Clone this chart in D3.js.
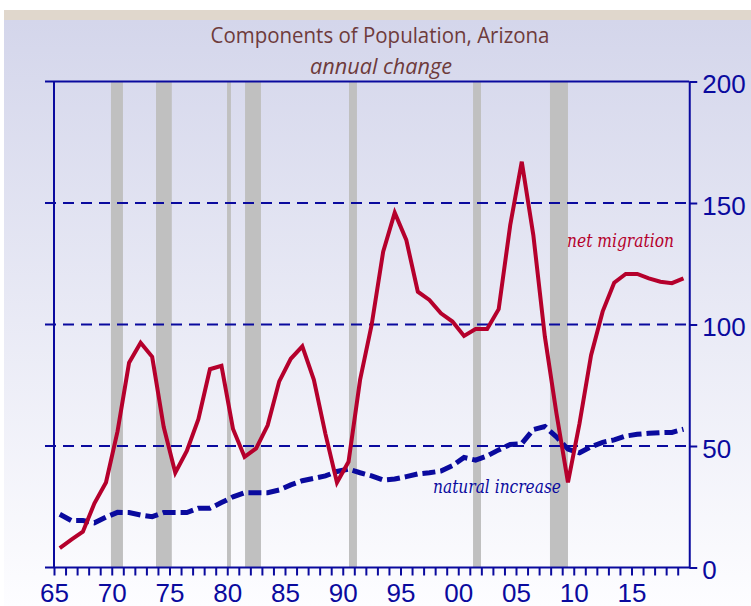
<!DOCTYPE html>
<html>
<head>
<meta charset="utf-8">
<script src="https://cdn.jsdelivr.net/npm/d3@7"></script>
<style>
    body { margin:0; background:white; }
    svg { display:block; }
</style>
</head>
<body>
<svg id="chart"></svg>
<script>

//years of the data (points sit in the middle of each year)
var years = d3.range(1965, 2020);

//net migration, thousands
var netMigration = [8, 11.5, 14.7, 26.4, 35, 56, 84.3, 92.5, 86.7, 57.8,
                    39, 48, 61, 81.6, 83, 57, 45.5, 49, 58.5, 76.6,
                    85.9, 91, 77.2, 55, 35, 43.5, 77.2, 99.8, 130, 146,
                    134.8, 113.5, 110.1, 104.6, 101.2, 95.3, 98.1, 98.1, 106.3, 140.9,
                    167, 136.8, 95, 63.5, 35, 59.3, 87.4, 105.3, 117.2, 120.8,
                    120.8, 119, 117.6, 117, 119];

//natural increase, thousands
var naturalIncrease = [21.9, 19.3, 19.3, 18.4, 20.7, 22.7, 22.6, 21.6, 20.9, 22.6,
                       22.6, 22.6, 24.4, 24.4, 26.7, 29.1, 30.8, 30.8, 30.8, 31.9,
                       34, 35.7, 36.7, 37.7, 39.5, 40.5, 39, 37.7, 36, 36.4,
                       37.4, 38.5, 39, 39.7, 41.9, 45.3, 44.2, 45.9, 48.4, 50.6,
                       51, 56.8, 58, 53.8, 48.7, 47.2, 49.7, 51.5, 52.5, 54.1,
                       54.8, 55.2, 55.5, 55.6, 56.9];

//recessions (start, end as fractional years)
var recessions = [[1969.93, 1970.97], [1973.83, 1975.2], [1979.98, 1980.32],
                  [1981.54, 1982.92], [1990.54, 1991.23], [2001.28, 2001.97],
                  [2007.94, 2009.5]];

var yTicks = [0, 50, 100, 150, 200];
var gridValues = [50, 100, 150];


var drawChart = function()
{
    var screen = {width:751, height:606};
    var blue = "#0a0a9e";
    var red = "#b5002c";

    var svg = d3.select("svg#chart")
        .attr("width", screen.width)
        .attr("height", screen.height);

    //background gradient
    var grad = svg.append("defs")
        .append("linearGradient")
        .attr("id", "bg")
        .attr("x1", 0).attr("y1", 0)
        .attr("x2", 0).attr("y2", 1);
    grad.append("stop").attr("offset", "0%").attr("stop-color", "#d4d6eb");
    grad.append("stop").attr("offset", "100%").attr("stop-color", "#fdfdff");

    svg.append("rect")
        .attr("x", 4).attr("y", 20)
        .attr("width", screen.width - 4).attr("height", screen.height - 20)
        .attr("fill", "url(#bg)");
    svg.append("rect")
        .attr("x", 4).attr("y", 10)
        .attr("width", screen.width - 4).attr("height", 10)
        .attr("fill", "#e0d7cc");

    //scales
    var xScale = d3.scaleLinear()
        .domain([1965, 2020])
        .range([54, 689.25]);

    var yScale = d3.scaleLinear()
        .domain([0, 200])
        .range([567.5, 81.5]);

    //recession bars
    svg.append("g")
        .selectAll("rect")
        .data(recessions)
        .enter()
        .append("rect")
        .attr("x", function(d) { return xScale(d[0]); })
        .attr("width", function(d) { return xScale(d[1]) - xScale(d[0]); })
        .attr("y", yScale(200))
        .attr("height", yScale(0) - yScale(200))
        .attr("fill", "#c0c0c0");

    //dashed gridlines
    svg.append("g")
        .selectAll("line")
        .data(gridValues)
        .enter()
        .append("line")
        .attr("x1", 45)
        .attr("x2", xScale(2020))
        .attr("y1", function(d) { return yScale(d); })
        .attr("y2", function(d) { return yScale(d); })
        .attr("stroke", blue)
        .attr("stroke-width", 2)
        .attr("stroke-dasharray", "11,7");

    //top line and bottom line
    svg.append("line")
        .attr("x1", 45).attr("x2", xScale(2020))
        .attr("y1", yScale(200)).attr("y2", yScale(200))
        .attr("stroke", blue).attr("stroke-width", 2);
    svg.append("line")
        .attr("x1", 45).attr("x2", xScale(2020))
        .attr("y1", yScale(0)).attr("y2", yScale(0))
        .attr("stroke", blue).attr("stroke-width", 2);

    //left frame line
    svg.append("line")
        .attr("x1", xScale(1965)).attr("x2", xScale(1965))
        .attr("y1", yScale(200)).attr("y2", yScale(0))
        .attr("stroke", blue).attr("stroke-width", 2);

    //right axis with the values
    var yAxis = d3.axisRight(yScale)
        .tickValues(yTicks)
        .tickSize(8)
        .tickPadding(5)
        .tickSizeOuter(0);

    var ya = svg.append("g")
        .attr("transform", "translate(" + xScale(2020) + ",0)")
        .call(yAxis);
    ya.select(".domain").attr("stroke", blue).attr("stroke-width", 2);
    ya.selectAll(".tick line").attr("stroke", blue).attr("stroke-width", 2);
    ya.selectAll(".tick text")
        .attr("fill", blue)
        .attr("dy", "0.44em")
        .style("font-family", "'Liberation Sans', Arial, sans-serif")
        .style("font-size", "26px");

    //bottom axis, a tick each year, a label every 5
    var xAxis = d3.axisBottom(xScale)
        .tickValues(years)
        .tickSize(8)
        .tickSizeOuter(0)
        .tickFormat(function(d) {
            if (d % 5 != 0) { return ""; }
            return String(d % 100).padStart(2, "0");
        });

    var xa = svg.append("g")
        .attr("transform", "translate(0," + yScale(0) + ")")
        .call(xAxis);
    xa.select(".domain").remove();
    xa.selectAll(".tick line").attr("stroke", blue).attr("stroke-width", 2);
    xa.selectAll(".tick text")
        .attr("fill", blue)
        .attr("y", 34)
        .attr("dy", 0)
        .style("font-family", "'Liberation Sans', Arial, sans-serif")
        .style("font-size", "26px");

    //lines
    var lineGenerator = function(values) {
        return d3.line()
            .x(function(d, i) { return xScale(years[i] + 0.5); })
            .y(function(d) { return yScale(d); })(values);
    };

    svg.append("path")
        .attr("d", lineGenerator(naturalIncrease))
        .attr("fill", "none")
        .attr("stroke", blue)
        .attr("stroke-width", 5)
        .attr("stroke-dasharray", "13,5");

    svg.append("path")
        .attr("d", lineGenerator(netMigration))
        .attr("fill", "none")
        .attr("stroke", red)
        .attr("stroke-width", 4)
        .attr("stroke-linejoin", "miter");

    //series labels
    svg.append("text")
        .text("net migration")
        .attr("x", 567).attr("y", 247)
        .attr("textLength", 107)
        .attr("lengthAdjust", "spacingAndGlyphs")
        .attr("fill", red)
        .style("font-family", "'DejaVu Serif', serif")
        .style("font-style", "italic")
        .style("font-size", "18px");

    svg.append("text")
        .text("natural increase")
        .attr("x", 433).attr("y", 493)
        .attr("textLength", 128)
        .attr("lengthAdjust", "spacingAndGlyphs")
        .attr("fill", blue)
        .style("font-family", "'DejaVu Serif', serif")
        .style("font-style", "italic")
        .style("font-size", "18px");

    //titles
    svg.append("text")
        .text("Components of Population, Arizona")
        .attr("x", 380).attr("y", 43)
        .attr("text-anchor", "middle")
        .attr("textLength", 339)
        .attr("lengthAdjust", "spacingAndGlyphs")
        .attr("fill", "#6e3b3b")
        .style("font-family", "'Open Sans', sans-serif")
        .style("font-size", "22px");

    svg.append("text")
        .text("annual change")
        .attr("x", 381).attr("y", 74)
        .attr("text-anchor", "middle")
        .attr("textLength", 142)
        .attr("lengthAdjust", "spacingAndGlyphs")
        .attr("fill", "#6e3b3b")
        .style("font-family", "'Open Sans', sans-serif")
        .style("font-style", "italic")
        .style("font-size", "22px");
}

drawChart();

</script>
</body>
</html>
